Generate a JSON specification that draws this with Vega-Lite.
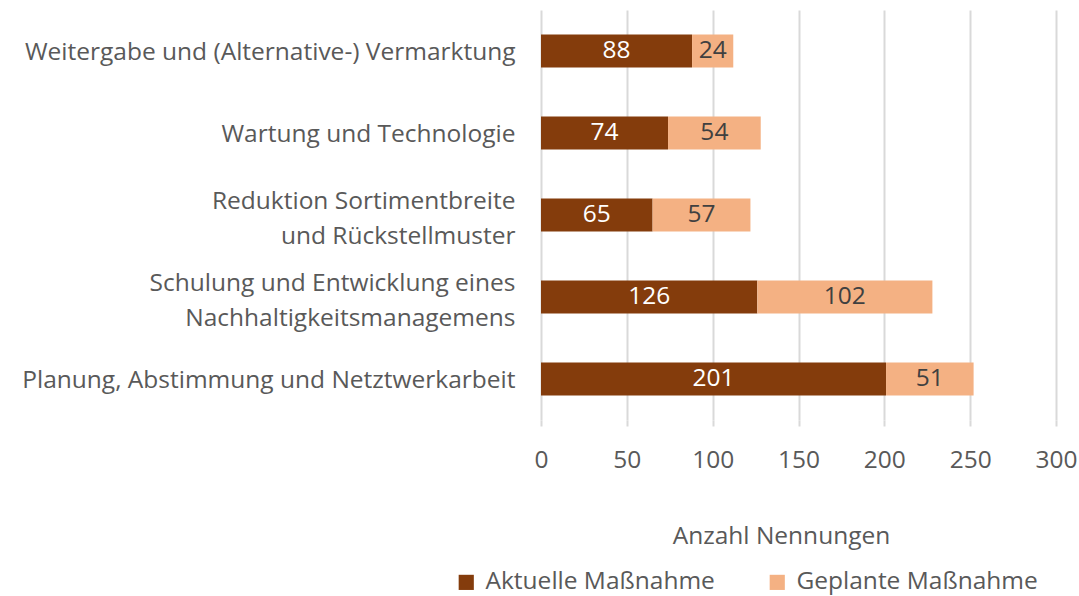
{
  "$schema": "https://vega.github.io/schema/vega-lite/v6.json",
  "width": 515,
  "height": 410,
  "autosize": "none",
  "padding": {"left": 541, "top": 10, "right": 23, "bottom": 176},
  "background": "white",
  "config": {
    "view": {"stroke": null},
    "font": "Open Sans",
    "text": {"font": "Open Sans"}
  },
  "data": {
    "values": [
      {"cat": "Weitergabe und (Alternative-) Vermarktung", "series": "Aktuelle Maßnahme", "ord": 1, "value": 88},
      {"cat": "Weitergabe und (Alternative-) Vermarktung", "series": "Geplante Maßnahme", "ord": 2, "value": 24},
      {"cat": "Wartung und Technologie", "series": "Aktuelle Maßnahme", "ord": 1, "value": 74},
      {"cat": "Wartung und Technologie", "series": "Geplante Maßnahme", "ord": 2, "value": 54},
      {"cat": "Reduktion Sortimentbreite|und Rückstellmuster", "series": "Aktuelle Maßnahme", "ord": 1, "value": 65},
      {"cat": "Reduktion Sortimentbreite|und Rückstellmuster", "series": "Geplante Maßnahme", "ord": 2, "value": 57},
      {"cat": "Schulung und Entwicklung eines|Nachhaltigkeitsmanagemens", "series": "Aktuelle Maßnahme", "ord": 1, "value": 126},
      {"cat": "Schulung und Entwicklung eines|Nachhaltigkeitsmanagemens", "series": "Geplante Maßnahme", "ord": 2, "value": 102},
      {"cat": "Planung, Abstimmung und Netztwerkarbeit", "series": "Aktuelle Maßnahme", "ord": 1, "value": 201},
      {"cat": "Planung, Abstimmung und Netztwerkarbeit", "series": "Geplante Maßnahme", "ord": 2, "value": 51}
    ]
  },
  "transform": [
    {"stack": "value", "groupby": ["cat"], "sort": [{"field": "ord", "order": "ascending"}], "as": ["x0", "x1"]},
    {"calculate": "(datum.x0 + datum.x1) / 2", "as": "mid"}
  ],
  "encoding": {
    "y": {
      "field": "cat",
      "type": "nominal",
      "sort": [
        "Weitergabe und (Alternative-) Vermarktung",
        "Wartung und Technologie",
        "Reduktion Sortimentbreite|und Rückstellmuster",
        "Schulung und Entwicklung eines|Nachhaltigkeitsmanagemens",
        "Planung, Abstimmung und Netztwerkarbeit"
      ],
      "scale": {"paddingInner": 0.6, "paddingOuter": 0.3},
      "axis": {
        "title": null,
        "domain": false,
        "ticks": false,
        "grid": false,
        "labelExpr": "split(datum.value, '|')",
        "labelFontSize": 24.5,
        "labelColor": "#595959",
        "labelPadding": 26,
        "labelLimit": 700,
        "labelLineHeight": 35,
        "labelFont": "Open Sans",
        "labelOffset": {"condition": {"test": "indexof(datum.value, '|') >= 0", "value": -13}, "value": 2}
      }
    }
  },
  "layer": [
    {
      "mark": {"type": "bar"},
      "encoding": {
        "x": {
          "field": "x0",
          "type": "quantitative",
          "scale": {"domain": [0, 300], "nice": false},
          "axis": {
            "title": "Anzahl Nennungen",
            "titleFontSize": 24.5,
            "titleFontWeight": "normal",
            "titleColor": "#595959",
            "titleFont": "Open Sans",
            "titleX": 240,
            "titleY": 116,
            "titleAlign": "center",
            "titleBaseline": "middle",
            "values": [0, 50, 100, 150, 200, 250, 300],
            "domain": false,
            "grid": true,
            "gridColor": "#d9d9d9",
            "gridWidth": 2,
            "ticks": true,
            "tickColor": "#d9d9d9",
            "tickWidth": 2,
            "tickSize": 6,
            "labelFontSize": 24.5,
            "labelColor": "#595959",
            "labelFont": "Open Sans",
            "labelPadding": 22,
            "labelFlush": false,
            "labelOverlap": false,
            "labelBound": false
          }
        },
        "x2": {"field": "x1"},
        "color": {
          "field": "series",
          "type": "nominal",
          "scale": {"domain": ["Aktuelle Maßnahme", "Geplante Maßnahme"], "range": ["#843C0C", "#F4B183"]},
          "legend": {
            "title": null,
            "orient": "none",
            "direction": "horizontal",
            "legendX": -87,
            "legendY": 560,
            "symbolType": "square",
            "symbolSize": 230,
            "symbolStrokeWidth": 0,
            "labelFontSize": 24.5,
            "labelColor": "#595959",
            "labelFont": "Open Sans",
            "labelLimit": 400,
            "columnPadding": 50,
            "symbolOffset": 0,
            "labelOffset": 7
          }
        },
        "order": {"field": "ord", "type": "quantitative"}
      }
    },
    {
      "mark": {"type": "text", "fontSize": 24.5, "font": "Open Sans", "align": "center", "baseline": "middle"},
      "encoding": {
        "x": {"field": "mid", "type": "quantitative"},
        "text": {"field": "value", "type": "quantitative"},
        "color": {
          "condition": {"test": "datum.series === 'Aktuelle Maßnahme'", "value": "#ffffff"},
          "value": "#404040"
        }
      }
    }
  ]
}
